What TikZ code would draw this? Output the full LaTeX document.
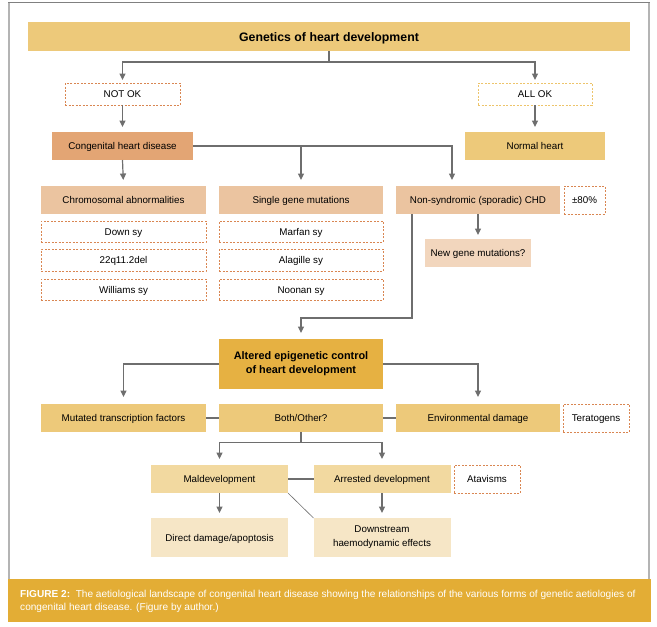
\documentclass[tikz,border=0pt]{standalone}
\usepackage{fontspec}
\setmainfont{Liberation Sans}
\usetikzlibrary{arrows.meta}
\definecolor{cgold}{HTML}{EDC97A}
\definecolor{cdark}{HTML}{E6B142}
\definecolor{corange}{HTML}{E3A574}
\definecolor{cpeach}{HTML}{EBC4A0}
\definecolor{cpeachl}{HTML}{F2D6BD}
\definecolor{clight}{HTML}{F2D9A0}
\definecolor{clighter}{HTML}{F6E6C6}
\definecolor{cband}{HTML}{E3AD35}
\definecolor{dorange}{HTML}{D98652}
\definecolor{dyellow}{HTML}{EDC46A}
\definecolor{lgray}{HTML}{6E6E6E}
\definecolor{fgray}{HTML}{B4B4B4}
\tikzset{
  base/.style={inner sep=0pt, outer sep=0pt, font=\fontsize{9.8}{12}\selectfont},
  box/.style={base, text height=7pt, text depth=0pt},
  twoline/.style={base, align=center},
  dbox/.style={box, draw=dorange, fill=white, line width=0.9pt, dash pattern=on 2pt off 1.5pt},
  conn/.style={draw=lgray, line width=1.2pt},
  arr/.style={conn, -{Triangle[width=6pt,length=6.5pt]}, shorten >=5pt},
  captxt/.style={anchor=base west, inner sep=0pt, text=white, font=\fontsize{10.1}{13}\selectfont},
}
\begin{document}
\begin{tikzpicture}[x=1pt,y=-1pt]
\useasboundingbox (0,0) rectangle (657,627);
% frame
\draw[fgray, line width=1.6pt] (8.8,2) -- (8.8,579);
\draw[fgray, line width=1.6pt] (649,2) -- (649,579);
\draw[gray, line width=1pt] (8,2) -- (650,2);
% caption band
\fill[cband] (8,579) rectangle (651,622);
\node[captxt] (cap1) at (20,597.5)
  {\textbf{FIGURE 2:}\ \ The aetiological landscape of congenital heart disease showing the relationships of the various forms of genetic aetiologies of};
\node[captxt] (cap2) at (20,610.5) {congenital heart disease. (Figure by author.)};

% nodes
\node[box, fill=cgold, minimum width=602pt, minimum height=29pt, text height=9pt, font=\bfseries\fontsize{12.3}{14}\selectfont] (title) at (329,36.5) {Genetics of heart development};
\node[dbox, minimum width=115pt, minimum height=22pt] (notok) at (122.5,94) {NOT OK};
\node[dbox, draw=dyellow, minimum width=114pt, minimum height=22pt] (allok) at (535,94) {ALL OK};
\node[box, fill=corange, minimum width=141pt, minimum height=28pt] (chd) at (122.5,146) {Congenital heart disease};
\node[box, fill=cgold, minimum width=140pt, minimum height=28pt] (normal) at (535,146) {Normal heart};

\node[box, fill=cpeach, minimum width=165pt, minimum height=28pt] (chrom) at (123.5,200) {Chromosomal abnormalities};
\node[box, fill=cpeach, minimum width=164pt, minimum height=28pt] (single) at (301,200) {Single gene mutations};
\node[box, fill=cpeach, minimum width=164pt, minimum height=28pt] (nonsyn) at (478,200) {Non-syndromic (sporadic) CHD};
\node[dbox, minimum width=41pt, minimum height=28pt] (pct) at (584.5,200) {±80\%};

\node[dbox, minimum width=165pt, minimum height=21pt] (down) at (123.5,231.5) {Down sy};
\node[dbox, minimum width=165pt, minimum height=22pt] (q22) at (123.5,260) {22q11.2del};
\node[dbox, minimum width=165pt, minimum height=21pt] (will) at (123.5,289.5) {Williams sy};
\node[dbox, minimum width=164pt, minimum height=21pt] (marfan) at (301,231.5) {Marfan sy};
\node[dbox, minimum width=164pt, minimum height=22pt] (alag) at (301,260) {Alagille sy};
\node[dbox, minimum width=164pt, minimum height=21pt] (noonan) at (301,289.5) {Noonan sy};
\node[box, fill=cpeachl, minimum width=106.5pt, minimum height=28pt] (newgene) at (478,253) {New gene mutations?};

\node[twoline, fill=cdark, minimum width=164pt, minimum height=50pt, font=\bfseries\fontsize{10.9}{14}\selectfont] (alt) at (301,364) {Altered epigenetic control\\of heart development};

\node[box, fill=cgold, minimum width=165pt, minimum height=28pt] (mut) at (123.5,418) {Mutated transcription factors};
\node[box, fill=cgold, minimum width=164pt, minimum height=28pt] (both) at (301,418) {Both/Other?};
\node[box, fill=cgold, minimum width=164pt, minimum height=28pt] (env) at (478,418) {Environmental damage};
\node[dbox, minimum width=66pt, minimum height=28pt] (terat) at (596,418) {Teratogens};

\node[box, fill=clight, minimum width=137pt, minimum height=28pt] (mal) at (219.5,479) {Maldevelopment};
\node[box, fill=clight, minimum width=137pt, minimum height=28pt] (arr) at (382,479) {Arrested development};
\node[dbox, minimum width=66pt, minimum height=28pt] (atav) at (487,479) {Atavisms};
\node[box, fill=clighter, minimum width=137pt, minimum height=39pt] (direct) at (219.5,537.5) {Direct damage/apoptosis};
\node[twoline, fill=clighter, minimum width=137pt, minimum height=39pt, font=\fontsize{9.8}{14}\selectfont] (dstream) at (382,537.5) {Downstream\\haemodynamic effects};

% helper coordinates
\coordinate (nsn) at (452,186);
\coordinate (nsb) at (412,214);
\coordinate (turn) at (412,318);

% connectors
\draw[arr, shorten >=3pt] (title.south) -- ++(0,11) -| (notok.north);
\draw[arr, shorten >=3pt] (title.south) -- ++(0,11) -| (allok.north);
\draw[arr] (notok.south) -- (chd.north);
\draw[arr] (allok.south) -- (normal.north);

\draw[arr, shorten >=6pt] (chd.south) -- (chrom.north);
\draw[arr, shorten >=6pt] (chd.east) -| (nsn);
\draw[arr, shorten >=6pt] (chd.east -| single.north) -- (single.north);
\draw[arr, shorten >=4pt] (nonsyn.south) -- (newgene.north);
\draw[arr, shorten >=6pt] (nsb) -- (turn) -| (alt.north);

\draw[arr, shorten >=7pt] (alt.west) -| (mut.north);
\draw[arr, shorten >=7pt] (alt.east) -| (env.north);
\draw[conn] (mut.east) -- (both.west);
\draw[conn] (both.east) -- (env.west);

\draw[arr, shorten >=6pt] (both.south) -- ++(0,10.5) -| (mal.north);
\draw[arr, shorten >=6pt] (both.south) -- ++(0,10.5) -| (arr.north);
\draw[conn] (mal.east) -- (arr.west);
\draw[draw=lgray, line width=0.6pt] (mal.south east) -- (dstream.north west);
\draw[arr] (mal.south) -- (direct.north);
\draw[arr] (arr.south) -- (dstream.north);
\end{tikzpicture}
\end{document}
